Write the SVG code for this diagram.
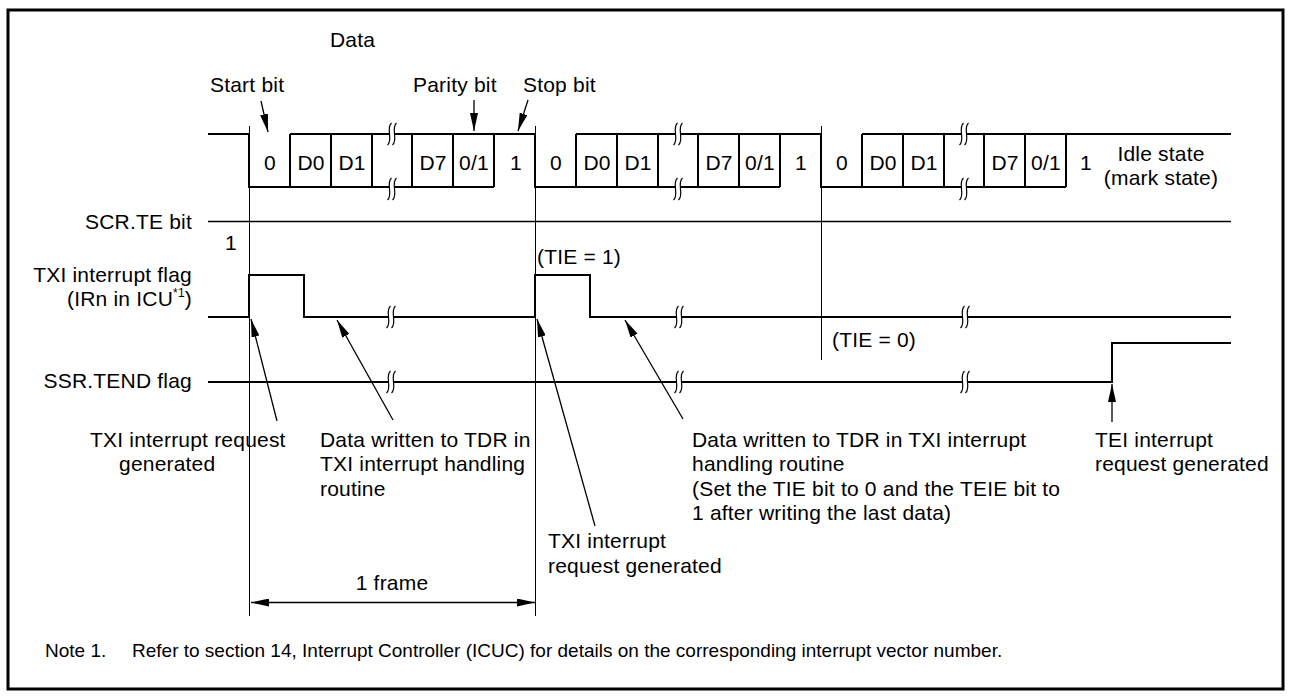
<svg xmlns="http://www.w3.org/2000/svg" width="1291" height="697" viewBox="0 0 1291 697">
<style>
.t{font-family:"Liberation Sans",Arial,Helvetica,sans-serif;font-size:21px;letter-spacing:0.2px;fill:#000}
.n{font-family:"Liberation Sans",Arial,Helvetica,sans-serif;font-size:19px;fill:#000}
.m{text-anchor:middle}
.e{text-anchor:end}
.w{stroke:#000;stroke-width:2;fill:none}
.thin{stroke:#000;stroke-width:1;fill:none}
.p{stroke:#000;stroke-width:1.3;fill:none}
.brkfill{fill:#fff;stroke:none}
.brkline{stroke:#000;stroke-width:1.2;fill:none}
</style>
<defs>
<marker id="ah" viewBox="0 0 18 8" refX="18" refY="4" markerWidth="18" markerHeight="8" markerUnits="userSpaceOnUse" orient="auto-start-reverse">
<path d="M0,0 L18,4 L0,8 z" fill="#000"/>
</marker>
<g id="brk">
<path class="brkfill" d="M-0.5,-11 C-6.5,-6 1.5,6 -4.5,11 L0.5,11 C6.5,6 -1.5,-6 4.5,-11 Z"/>
<path class="brkline" d="M-0.5,-11 C-6.5,-6 1.5,6 -4.5,11 M4.5,-11 C-1.5,-6 6.5,6 0.5,11"/>
</g>
</defs>
<rect x="0" y="0" width="1291" height="697" fill="#fff"/>
<rect x="8" y="10" width="1275" height="679" fill="none" stroke="#000" stroke-width="3"/>

<g id="labels-top">
<text class="t" x="330" y="47">Data</text>
<text class="t" x="210" y="92">Start bit</text>
<text class="t" x="413" y="92">Parity bit</text>
<text class="t" x="523" y="92">Stop bit</text>
<text class="t m" x="1161" y="161">Idle state</text>
<text class="t m" x="1161" y="185">(mark state)</text>
</g>

<g id="serial-waveform">
<path class="w" d="M208,134 H249 V187 H494 M494,134 V187 M290,134 H535 V187 H780 M780,134 V187 M576,134 H821 V187 H1066 M1066,134 V187 M862,134 H1231"/>
<path class="w" d="M290,134 V187 M331,134 V187 M372,134 V187 M412,134 V187 M453,134 V187 M576,134 V187 M617,134 V187 M658,134 V187 M698,134 V187 M739,134 V187 M862,134 V187 M903,134 V187 M944,134 V187 M984,134 V187 M1025,134 V187"/>
<use href="#brk" x="392" y="134"/>
<use href="#brk" x="392" y="189"/>
<use href="#brk" x="678" y="134"/>
<use href="#brk" x="678" y="189"/>
<use href="#brk" x="964" y="134"/>
<use href="#brk" x="964" y="189"/>
<text class="t m" x="270" y="170">0</text>
<text class="t m" x="311" y="170">D0</text>
<text class="t m" x="352" y="170">D1</text>
<text class="t m" x="433" y="170">D7</text>
<text class="t m" x="474" y="170">0/1</text>
<text class="t m" x="516" y="170">1</text>
<text class="t m" x="556" y="170">0</text>
<text class="t m" x="597" y="170">D0</text>
<text class="t m" x="638" y="170">D1</text>
<text class="t m" x="719" y="170">D7</text>
<text class="t m" x="760" y="170">0/1</text>
<text class="t m" x="801" y="170">1</text>
<text class="t m" x="842" y="170">0</text>
<text class="t m" x="883" y="170">D0</text>
<text class="t m" x="924" y="170">D1</text>
<text class="t m" x="1005" y="170">D7</text>
<text class="t m" x="1046" y="170">0/1</text>
<text class="t m" x="1086" y="170">1</text>
</g>

<g id="guides">
<path class="thin" d="M249.5,126 V616 M535.5,126 V616 M821.5,126 V360"/>
</g>

<g id="scr-te">
<text class="t e" x="192" y="229">SCR.TE bit</text>
<path class="thin" d="M208,221.5 H1231" style="stroke-width:1.5"/>
<text class="t" x="225" y="250">1</text>
</g>

<g id="txi-flag">
<text class="t e" x="192" y="282">TXI interrupt flag</text>
<text class="t e" x="192" y="306">(IRn in ICU<tspan font-size="12" dy="-9">*1</tspan><tspan dy="9">)</tspan></text>
<path class="w" d="M208,317 H249 V275 H304 V317 H535 V275 H590 V317 H1231"/>
<use href="#brk" x="391" y="317"/>
<use href="#brk" x="679" y="317"/>
<use href="#brk" x="965" y="317"/>
<text class="t" x="537" y="264">(TIE = 1)</text>
<text class="t" x="832" y="347">(TIE = 0)</text>
</g>

<g id="ssr-tend">
<text class="t e" x="192" y="388">SSR.TEND flag</text>
<path class="w" d="M208,382 H1112 V343 H1231"/>
<use href="#brk" x="391" y="382"/>
<use href="#brk" x="679" y="382"/>
<use href="#brk" x="965" y="382"/>
</g>

<g id="connectors">
<line class="p" x1="277" y1="421" x2="251" y2="319" marker-end="url(#ah)"/>
<line class="p" x1="393" y1="420" x2="337" y2="320" marker-end="url(#ah)"/>
<line class="p" x1="595" y1="526" x2="537" y2="319" marker-end="url(#ah)"/>
<line class="p" x1="683" y1="419" x2="625" y2="320" marker-end="url(#ah)"/>
<line class="p" x1="1112" y1="422" x2="1112" y2="384" marker-end="url(#ah)"/>
<line class="p" x1="261" y1="101" x2="268" y2="132" marker-end="url(#ah)"/>
<line class="p" x1="474" y1="100" x2="474" y2="131" marker-end="url(#ah)"/>
<line class="p" x1="528" y1="100" x2="518" y2="131" marker-end="url(#ah)"/>
<line class="p" x1="251" y1="602.5" x2="535" y2="602.5" marker-start="url(#ah)" marker-end="url(#ah)"/>
</g>

<g id="annotations">
<text class="t" x="90" y="447">TXI interrupt request</text>
<text class="t" x="119" y="471">generated</text>
<text class="t" x="320" y="447">Data written to TDR in</text>
<text class="t" x="320" y="471">TXI interrupt handling</text>
<text class="t" x="320" y="496">routine</text>
<text class="t" x="548" y="548">TXI interrupt</text>
<text class="t" x="548" y="573">request generated</text>
<text class="t" x="692" y="447">Data written to TDR in TXI interrupt</text>
<text class="t" x="692" y="471">handling routine</text>
<text class="t" x="692" y="496">(Set the TIE bit to 0 and the TEIE bit to</text>
<text class="t" x="692" y="520">1 after writing the last data)</text>
<text class="t" x="1095" y="447">TEI interrupt</text>
<text class="t" x="1095" y="471">request generated</text>
<text class="t m" x="392" y="590">1 frame</text>
<text class="n" x="45" y="657">Note 1.</text>
<text class="n" x="132" y="657">Refer to section 14, Interrupt Controller (ICUC) for details on the corresponding interrupt vector number.</text>
</g>
</svg>
